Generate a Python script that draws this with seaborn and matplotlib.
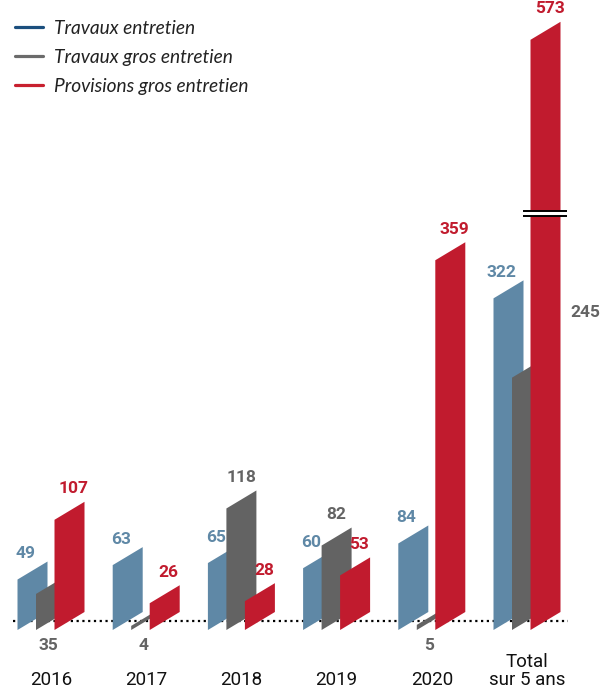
import numpy as np
import pandas as pd
import matplotlib
matplotlib.use("Agg")
import matplotlib.pyplot as plt
import seaborn as sns
from matplotlib.patches import Polygon
from matplotlib.lines import Line2D
from matplotlib.font_manager import FontProperties

# ---------------- data ----------------
categories = ["2016", "2017", "2018", "2019", "2020", "Total\nsur 5 ans"]
series = ["Travaux entretien", "Travaux gros entretien", "Provisions gros entretien"]
travaux_entretien = [49, 63, 65, 60, 84, 322]
travaux_gros_entretien = [35, 4, 118, 82, 5, 245]
provisions_gros_entretien = [107, 26, 28, 53, 359, 573]

bar_colors = ["#5f88a6", "#636363", "#c11b2e"]
legend_colors = ["#1b4f7e", "#6b6b6b", "#c8202f"]
label_colors = ["#5f88a6", "#646464", "#c11b2e"]

df = pd.DataFrame({
    "cat": categories * 3,
    "series": np.repeat(series, len(categories)),
    "value": travaux_entretien + travaux_gros_entretien + provisions_gros_entretien,
})

# ---------------- layout ----------------
W, H, DPI = 608, 690, 100
PX = 1.03          # pixels per value unit
BASE_PX = 621      # baseline position from top (px)
STEP_PX = 95.2     # distance between groups (px)
X0_PX = 51         # first group centre (px)
BAR_W_PX = 30
OFFSET_PX = 18.5
SKEW_PX = 9        # half vertical shift of parallelogram

sns.set_style("white")
plt.rcParams["font.family"] = ["Roboto", "DejaVu Sans"]

fig = plt.figure(figsize=(W / DPI, H / DPI), dpi=DPI)
ax = fig.add_axes([0, 0, 1, 1])

sns.barplot(data=df, x="cat", y="value", hue="series", order=categories,
            hue_order=series, palette=bar_colors, width=3 * OFFSET_PX / STEP_PX,
            dodge=True, ax=ax, legend=False, errorbar=None)

ax.set_ylim(-(H - BASE_PX) / PX, BASE_PX / PX)
ax.set_xlim(-X0_PX / STEP_PX, (W - X0_PX) / STEP_PX)
ax.axis("off")

ux = 1 / STEP_PX   # data units per px in x
uy = 1 / PX        # data units per px in y
bar_w = BAR_W_PX * ux
skew = SKEW_PX * uy
n = len(categories)

val_font = dict(fontsize=12.5, fontweight="bold", family=["Roboto", "DejaVu Sans"])

for i, cont in enumerate(ax.containers):
    for j, rect in enumerate(cont.patches):
        cx = rect.get_x() + rect.get_width() / 2
        v = rect.get_height()
        xl, xr = cx - bar_w / 2, cx + bar_w / 2
        poly = Polygon([(xl, -skew), (xr, skew), (xr, v + skew), (xl, v - skew)],
                       closed=True, facecolor=bar_colors[i], edgecolor="none",
                       zorder=3 + i)
        ax.add_patch(poly)
        rect.set_visible(False)
        label = f"{int(round(v))}"
        if i == 0:
            ax.text(xl + 8 * ux, v + skew + 8 * uy, label, ha="center", va="center",
                    color=label_colors[i], zorder=10, **val_font)
        elif i == 1:
            if j == n - 1:
                ax.text(cx + 58 * ux, v + skew + 47 * uy, label, ha="center",
                        va="center", color=label_colors[i], zorder=10, **val_font)
            elif v < 40:
                ax.text(cx - 3 * ux, -25 * uy, label, ha="center", va="center",
                        color=label_colors[i], zorder=10, **val_font)
            else:
                ax.text(cx, v + skew + 13 * uy, label, ha="center", va="center",
                        color=label_colors[i], zorder=10, **val_font)
        else:
            ax.text(cx + 4 * ux, v + skew + 13 * uy, label, ha="center", va="center",
                    color=label_colors[i], zorder=10, **val_font)
            if j == n - 1:
                # axis break mark on the total bar
                yb = v * 0.69
                bx0, bx1 = xl - 8 * ux, xr + 6 * ux
                ax.fill_between([bx0, bx1], yb - 2.3 * uy, yb + 2.3 * uy,
                                color="white", zorder=8, lw=0)
                ax.plot([bx0, bx1], [yb + 2.3 * uy] * 2, color="black", lw=1.4,
                        zorder=9, solid_capstyle="butt")
                ax.plot([bx0, bx1], [yb - 2.3 * uy] * 2, color="black", lw=1.4,
                        zorder=9, solid_capstyle="butt")

# dotted baseline
ax.plot([-38 * ux, n - 1 + 41 * ux], [0, 0], color="black", lw=1.6,
        ls=(0, (1, 1.6)), zorder=1)

# category labels
for k, cat in enumerate(categories):
    ax.text(k, -(689 - BASE_PX) * uy, cat, ha="center", va="bottom",
            fontsize=13.5, color="#111111", linespacing=1.0,
            family=["Roboto", "DejaVu Sans"])

# legend
handles = [Line2D([0], [0], color=c, lw=2.3) for c in legend_colors]
ax.legend(handles, series, loc="upper left",
          bbox_to_anchor=(15 / W, 1 - 20 / H), bbox_transform=fig.transFigure,
          frameon=False, handlelength=1.45, handletextpad=0.6,
          labelspacing=0.62, borderpad=0, borderaxespad=0,
          prop=FontProperties(family=["Lato", "DejaVu Sans"], style="italic", size=13.8),
          labelcolor="#222222")

fig.savefig("out.png", dpi=DPI)
